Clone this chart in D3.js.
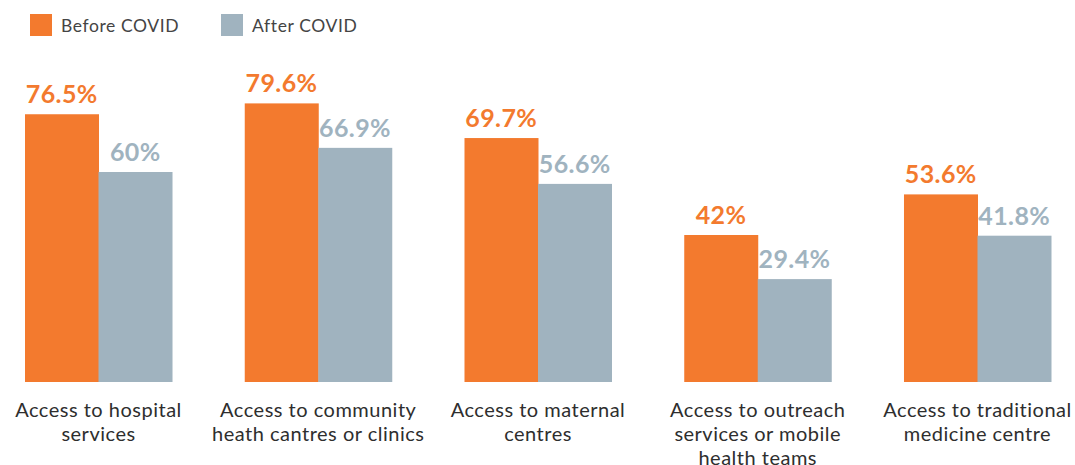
<!DOCTYPE html>
<html lang="en">
<head>
<meta charset="utf-8">
<title>Access to health services before and after COVID</title>
<style>
  body { margin: 0; background: #fff; }
  #chart text { font-family: Lato, "Open Sans", sans-serif; }
  .value { font-weight: 700; font-size: 25px; letter-spacing: 0.4px; }
  .cat { font-size: 20px; fill: #2e2e2e; letter-spacing: 0.5px; }
  .legend { font-size: 17.5px; fill: #444; letter-spacing: 0.6px; }
</style>
</head>
<body>
<div id="chart"></div>
<script src="https://d3js.org/d3.v7.min.js"></script>
<script>
  const categories = [
    ["Access to hospital", "services"],
    ["Access to community", "heath cantres or clinics"],
    ["Access to maternal", "centres"],
    ["Access to outreach", "services or mobile", "health teams"],
    ["Access to traditional", "medicine centre"]
  ];
  const seriesNames = ["Before COVID", "After COVID"];
  const beforeCovid = [76.5, 79.6, 69.7, 42, 53.6];
  const afterCovid = [60, 66.9, 56.6, 29.4, 41.8];
  const colors = ["#f37a2e", "#a0b3bf"];

  const width = 1075, height = 465;
  const svg = d3.select("#chart").append("svg")
      .attr("width", width)
      .attr("height", height);

  const keys = categories.map((d, i) => i);
  const x = d3.scaleBand()
      .domain(keys)
      .range([25, 1051])
      .paddingInner(0.331)
      .paddingOuter(0);
  const xs = d3.scaleBand()
      .domain([0, 1])
      .range([0, x.bandwidth()]);
  const y = d3.scaleLinear()
      .domain([0, 100])
      .range([382, 32]);

  const rows = keys.map(i => ({i, values: [beforeCovid[i], afterCovid[i]]}));

  const groups = svg.append("g")
    .selectAll("g")
    .data(rows)
    .join("g")
      .attr("transform", d => `translate(${x(d.i)},0)`);

  groups.selectAll("rect")
    .data(d => d.values.map((v, s) => ({v, s})))
    .join("rect")
      .attr("x", d => xs(d.s))
      .attr("y", d => y(d.v))
      .attr("width", xs.bandwidth() + 0.5)
      .attr("height", d => y(0) - y(d.v))
      .attr("fill", d => colors[d.s]);

  groups.selectAll("text.value")
    .data(d => d.values.map((v, s) => ({v, s})))
    .join("text")
      .attr("class", "value")
      .attr("x", d => xs(d.s) + xs.bandwidth() / 2)
      .attr("y", d => y(d.v) - 11)
      .attr("text-anchor", "middle")
      .attr("fill", d => colors[d.s])
      .text(d => d.v + "%");

  // category labels under the bars
  svg.append("g")
    .selectAll("text")
    .data(keys)
    .join("text")
      .attr("class", "cat")
      .attr("x", i => x(i) + x.bandwidth() / 2)
      .attr("y", 417)
      .attr("text-anchor", "middle")
      .selectAll("tspan")
      .data(i => categories[i])
      .join("tspan")
        .attr("x", function() { return this.parentNode.getAttribute("x"); })
        .attr("dy", (d, j) => j === 0 ? 0 : 24)
        .text(d => d);

  // legend
  const legend = svg.append("g")
    .selectAll("g")
    .data(seriesNames)
    .join("g")
      .attr("transform", (d, i) => `translate(${30 + i * 191},14)`);
  legend.append("rect")
      .attr("width", 22)
      .attr("height", 22)
      .attr("fill", (d, i) => colors[i]);
  legend.append("text")
      .attr("class", "legend")
      .attr("x", 31)
      .attr("y", 17.5)
      .text(d => d);
</script>
</body>
</html>
